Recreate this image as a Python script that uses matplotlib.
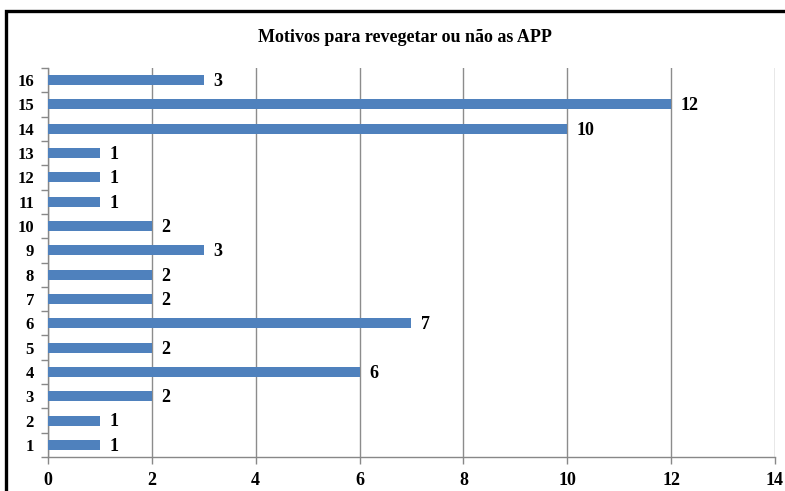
import matplotlib
matplotlib.use("Agg")
import matplotlib.pyplot as plt
from matplotlib.patches import Rectangle

categories = [str(i) for i in range(1, 17)]
values = [1, 1, 2, 6, 2, 7, 2, 2, 3, 2, 1, 1, 1, 10, 12, 3]
title = "Motivos para revegetar ou não as APP"
xticks = [0, 2, 4, 6, 8, 10, 12, 14]

plt.rcParams['font.family'] = ['Liberation Serif', 'DejaVu Serif']
plt.rcParams['font.weight'] = 'bold'

fig = plt.figure(figsize=(7.85, 4.91), dpi=100)
ax = fig.add_axes([48/785, 1-457/491, (775-48)/785, (457-68)/491])

pos = list(range(len(categories)))
ax.barh(pos, values, height=0.41, color='#4F81BD', zorder=3)
for p, v in zip(pos, values):
    ax.text(v + 0.18, p - 0.06, str(v), va='center', ha='left', fontsize=13,
            fontweight='bold')

ax.set_xlim(0, 14)
ax.set_ylim(-0.5, len(categories) - 0.5)
ax.set_xticks(xticks)
ax.set_xticklabels([str(t) for t in xticks], fontsize=13, fontweight='bold')
ax.set_yticks(pos)
ax.set_yticklabels(categories, fontsize=12, fontweight='bold')
ax.set_yticks([p + 0.5 for p in pos[:-1]] + [-0.5, len(categories) - 0.5], minor=True)
ax.tick_params(axis='y', which='major', length=0, pad=10)
ax.tick_params(axis='y', which='minor', length=5, color='#888888', width=1)
ax.tick_params(axis='x', which='major', length=5, color='#888888', width=1, pad=6)
ax.grid(axis='x', color='#8c8c8c', linewidth=1, zorder=0)
for s in ['top', 'right']:
    ax.spines[s].set_visible(False)
for s in ['left', 'bottom']:
    ax.spines[s].set_color('#888888')
    ax.spines[s].set_linewidth(1)

fig.text(405/785, 1-37/491, title, ha='center', va='center', fontsize=13,
         fontweight='bold')

border = Rectangle((6/785, -0.2), 1.2, 1 - 11/491 + 0.2, transform=fig.transFigure,
                   fill=False, edgecolor='black', linewidth=2.4, clip_on=False)
fig.patches.append(border)

fig.savefig("out.png", dpi=100)
